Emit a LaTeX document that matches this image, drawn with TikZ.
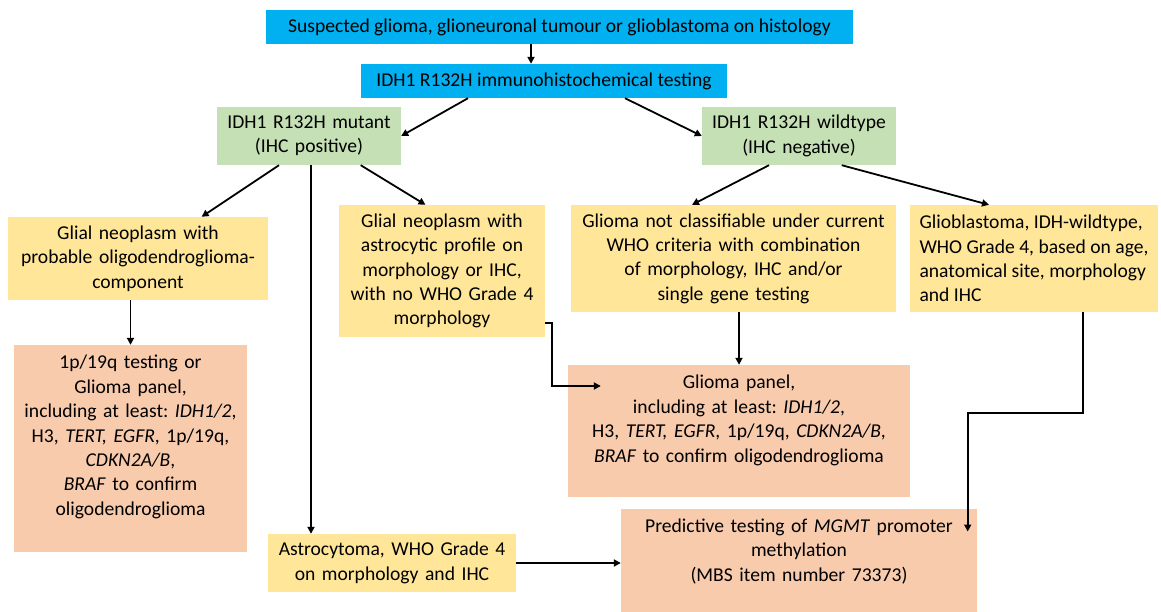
\documentclass[tikz,border=0pt]{standalone}
\usepackage{fontspec}
\setmainfont{Carlito}
\usetikzlibrary{arrows.meta}
\definecolor{ihcblue}{HTML}{00B0F0}
\definecolor{mutgreen}{HTML}{C5E0B4}
\definecolor{dxyellow}{HTML}{FFE699}
\definecolor{testpeach}{HTML}{F8CBAD}
\frenchspacing

\begin{document}
\begin{tikzpicture}[x=1pt, y=-1pt,
    box/.style={rectangle, inner xsep=4pt, inner ysep=0pt, align=center, font=\fontsize{19.6}{24.4}\selectfont},
    bluebox/.style={box, fill=ihcblue, minimum height=34pt},
    greenbox/.style={box, fill=mutgreen, minimum height=58pt},
    yellowbox/.style={box, fill=dxyellow},
    peachbox/.style={box, fill=testpeach},
    arr/.style={-{Triangle[length=7pt, width=7pt]}, line width=1.8pt}
]
    \useasboundingbox (0,0) rectangle (1161,612);

    % histology and IHC
    \node[bluebox, minimum width=587pt] (susp) at (559.5,27) {Suspected glioma, glioneuronal tumour or glioblastoma on histology};
    \node[bluebox, minimum width=366pt] (ihc) at (544,81) {IDH1 R132H immunohistochemical testing};

    \node[greenbox, text width=176pt] (mut) at (309,136) {IDH1 R132H mutant\\(IHC positive)};
    \node[greenbox, text width=186pt] (wt) at (799,136) {IDH1 R132H wildtype\\(IHC negative)};

    % diagnoses
    \node[yellowbox, text width=252pt, minimum height=83pt] (oligo) at (138,258.5) {Glial neoplasm with\\probable oligodendroglioma-\\component};
    \node[yellowbox, text width=198pt, minimum height=132pt] (astro) at (442,271) {Glial neoplasm with\\astrocytic profile on\\morphology or IHC,\\with no WHO Grade 4\\morphology};
    \node[yellowbox, text width=317pt, minimum height=107pt] (uncl) at (733.5,258.5) {Glioma not classifiable under current\\WHO criteria with combination\\of morphology, IHC and/or\\single gene testing};
    \node[yellowbox, align=left, minimum width=248pt, minimum height=107pt] (gbm) at (1034,258.5) {Glioblastoma, IDH-wildtype,\\WHO Grade 4, based on age,\\anatomical site, morphology\\and IHC};
    \node[yellowbox, text width=240pt, minimum height=58pt] (gr4) at (392,563) {Astrocytoma, WHO Grade 4\\on morphology and IHC};

    % molecular testing
    \node[peachbox, text width=229pt, inner xsep=2pt, minimum height=207pt, text depth=173pt] (codel) at (130.5,448.5) {1p/19q testing or\\Glioma panel,\\including at least: \textit{IDH1/2},\\H3, \textit{TERT, EGFR}, 1p/19q,\\\textit{CDKN2A/B},\\\textit{BRAF} to confirm\\oligodendroglioma};
    \node[peachbox, text width=334pt, minimum height=132pt, text depth=98pt] (panel) at (739,431) {Glioma panel,\\including at least: \textit{IDH1/2},\\H3, \textit{TERT, EGFR}, 1p/19q, \textit{CDKN2A/B},\\\textit{BRAF} to confirm oligodendroglioma};
    \node[peachbox, text width=348pt, minimum height=103pt, text depth=70pt] (mgmt) at (799,560.5) {Predictive testing of \textit{MGMT} promoter\\methylation\\(MBS item number 73373)};

    \coordinate (panelin) at ([xshift=33pt, yshift=45pt]panel.west);
    \coordinate (mgmtin) at ([xshift=168.7pt, yshift=-22.7pt]mgmt.north);

    % connectors
    \draw[arr] ([xshift=-13pt]ihc.north |- susp.south) -- ([xshift=-13pt]ihc.north);
    \draw[arr] ([xshift=-76pt]ihc.south) -- (mut.east);
    \draw[arr] ([xshift=81pt]ihc.south) -- (wt.west);
    \draw[arr] ([xshift=-30pt]mut.south) -- ([xshift=63.6pt]oligo.north);
    \draw[arr] ([xshift=2pt]mut.south) -- ([xshift=2pt]mut.south |- gr4.north);
    \draw[arr] ([xshift=51.7pt]mut.south) -- ([xshift=-16.5pt]astro.north);
    \draw[arr] ([xshift=-30pt]wt.south) -- ([xshift=-41.5pt]uncl.north);
    \draw[arr] ([xshift=42.7pt]wt.south) -- ([xshift=-45pt]gbm.north);
    \draw[arr] (codel.north |- oligo.south) -- (codel.north);
    \draw[arr] (panel.north |- uncl.south) -- (panel.north);
    \draw[arr] ([yshift=-52pt]astro.east) -- ++(6.7,0) |- (panelin);
    \draw[arr] ([xshift=49pt]gbm.south) -- ++(0,101) -| (mgmtin);
    \draw[arr] (gr4.east) -- (mgmt.west |- gr4.east);
\end{tikzpicture}
\end{document}
